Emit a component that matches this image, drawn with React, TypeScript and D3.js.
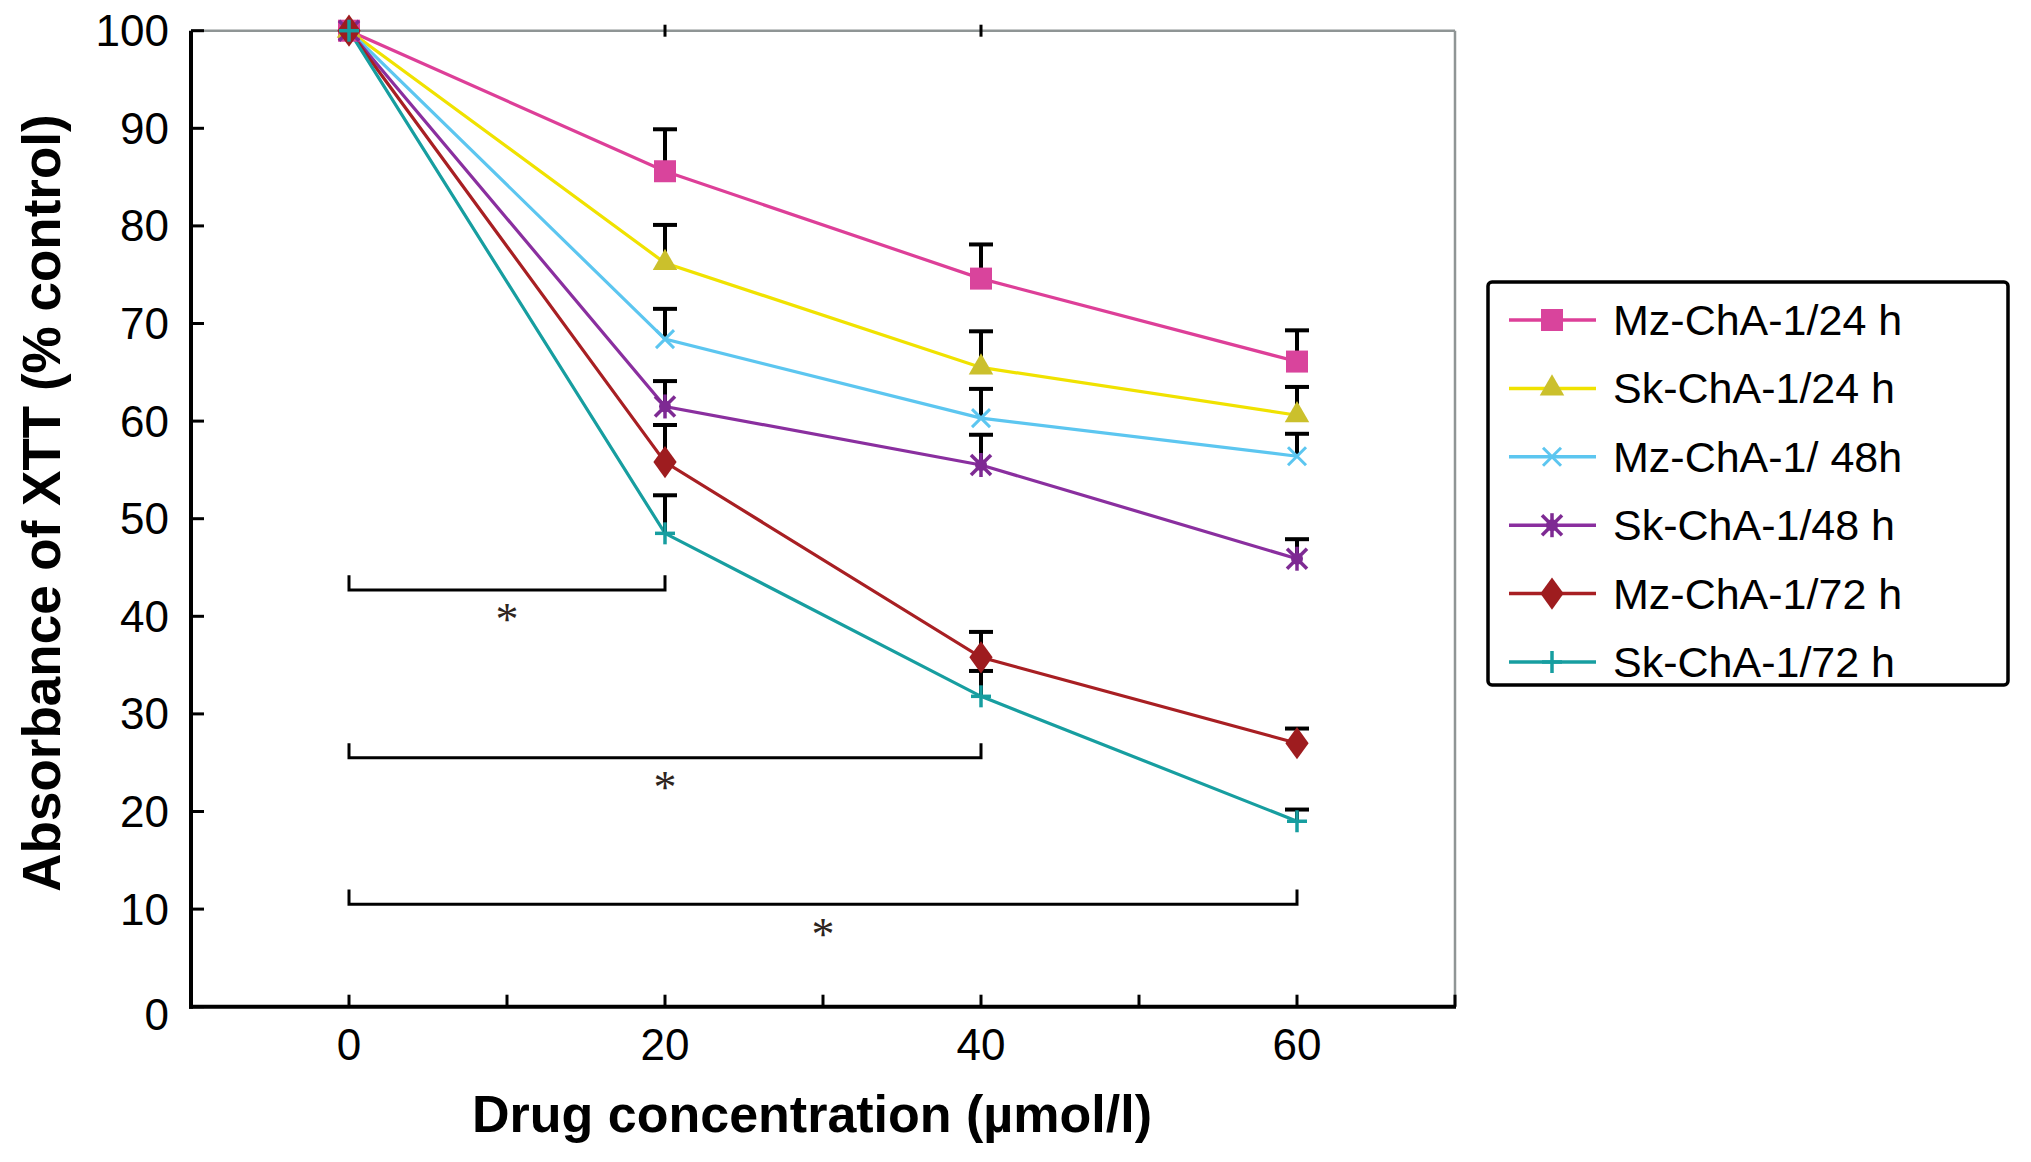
import React from 'react';
import * as d3 from 'd3';

// drug concentrations (µmol/l)
const concentrations = [0, 20, 40, 60];

const seriesNames = ['Mz-ChA-1/24 h', 'Sk-ChA-1/24 h', 'Mz-ChA-1/ 48h', 'Sk-ChA-1/48 h', 'Mz-ChA-1/72 h', 'Sk-ChA-1/72 h'];

// absorbance of XTT (% control)
const mz24 = [100, 85.6, 74.6, 66.1];
const sk24 = [100, 76.2, 65.5, 60.6];
const mz48 = [100, 68.4, 60.3, 56.4];
const sk48 = [100, 61.5, 55.5, 45.9];
const mz72 = [100, 55.8, 35.8, 27.0];
const sk72 = [100, 48.5, 31.8, 19.0];

// upper error bars (SD)
const mz24Err = [0, 4.3, 3.5, 3.2];
const sk24Err = [0, 3.9, 3.7, 2.9];
const mz48Err = [0, 3.1, 3.0, 2.3];
const sk48Err = [0, 2.6, 3.1, 2.0];
const mz72Err = [0, 3.8, 2.6, 1.5];
const sk72Err = [0, 3.9, 2.6, 1.2];

const yTicks = [0, 10, 20, 30, 40, 50, 60, 70, 80, 90, 100];
const xTicks = [0, 10, 20, 30, 40, 50, 60, 70];
const xTickLabels = [0, 20, 40, 60];

// significance brackets
const bracketFrom = [0, 0, 0];
const bracketTo = [20, 40, 60];
const bracketLevel = [42.7, 25.5, 10.5];

const W = 2031;
const H = 1162;

const x = d3.scaleLinear().domain([-10, 70]).range([191, 1455]);
const y = d3.scaleLinear().domain([0, 100]).range([1006.7, 30.7]);

type MarkerKind = 'square' | 'triangle' | 'x' | 'star' | 'diamond' | 'plus';

const series = [
  { name: seriesNames[0], values: mz24, err: mz24Err, line: '#dd3f98', fill: '#d9449c', marker: 'square' as MarkerKind },
  { name: seriesNames[1], values: sk24, err: sk24Err, line: '#f0e200', fill: '#cbc02c', marker: 'triangle' as MarkerKind },
  { name: seriesNames[2], values: mz48, err: mz48Err, line: '#5cc6f0', fill: '#5cc6f0', marker: 'x' as MarkerKind },
  { name: seriesNames[3], values: sk48, err: sk48Err, line: '#8a2f9f', fill: '#7e2a93', marker: 'star' as MarkerKind },
  { name: seriesNames[4], values: mz72, err: mz72Err, line: '#a81f23', fill: '#9e1c1f', marker: 'diamond' as MarkerKind },
  { name: seriesNames[5], values: sk72, err: sk72Err, line: '#179ea0', fill: '#179ea0', marker: 'plus' as MarkerKind },
];

const tickFont = "'Liberation Sans', Arial, sans-serif";

function Marker({ kind, cx, cy, color }: { kind: MarkerKind; cx: number; cy: number; color: string }) {
  const t = `translate(${cx},${cy})`;
  if (kind === 'square') return <rect x={cx - 11} y={cy - 11} width={22} height={22} fill={color} />;
  if (kind === 'triangle')
    return <path transform={t} d={d3.symbol(d3.symbolTriangle, 260)() || ''} fill={color} />;
  if (kind === 'diamond')
    return <path transform={`${t} scale(1.25,1)`} d={d3.symbol(d3.symbolDiamond, 300)() || ''} fill={color} />;
  if (kind === 'x')
    return (
      <g transform={t} stroke={color} strokeWidth={3}>
        <line x1={-9} y1={-9} x2={9} y2={9} />
        <line x1={-9} y1={9} x2={9} y2={-9} />
      </g>
    );
  if (kind === 'star')
    return (
      <g transform={t} stroke={color} strokeWidth={3.5}>
        <line x1={-10} y1={-10} x2={10} y2={10} />
        <line x1={-10} y1={10} x2={10} y2={-10} />
        <line x1={0} y1={-12} x2={0} y2={12} />
        <circle r={6} fill={color} stroke="none" />
      </g>
    );
  return (
    <g transform={t} stroke={color} strokeWidth={3.5}>
      <line x1={0} y1={-11} x2={0} y2={11} />
      <line x1={-10} y1={0} x2={10} y2={0} />
    </g>
  );
}

export default function App() {
  const line = d3
    .line<number>()
    .x((_, i) => x(concentrations[i]))
    .y((d) => y(d));

  const legendRow = d3.scaleLinear().domain([0, 5]).range([320, 662]);

  return (
    <svg width={W} height={H} style={{ position: 'absolute', left: 0, top: 0, background: '#fff' }}>
      <rect width={W} height={H} fill="#fff" />

      {/* frame: grey top/right borders */}
      <line x1={x(-10)} x2={x(70)} y1={y(100)} y2={y(100)} stroke="#8f9595" strokeWidth={2.5} />
      <line x1={x(70)} x2={x(70)} y1={y(100)} y2={y(0)} stroke="#8f9595" strokeWidth={2.5} />
      {[20, 40].map((v) => (
        <line key={v} x1={x(v)} x2={x(v)} y1={y(100) - 6} y2={y(100) + 6} stroke="#000" strokeWidth={3} />
      ))}

      {/* y axis */}
      <line x1={x(-10)} x2={x(-10)} y1={y(100)} y2={y(0) + 2} stroke="#000" strokeWidth={4} />
      {yTicks.map((v) => (
        <g key={v}>
          <line x1={x(-10)} x2={x(-10) + 13} y1={y(v)} y2={y(v)} stroke="#000" strokeWidth={3} />
          <text
            x={169}
            y={y(v) + (v === 0 ? 8 : 0)}
            textAnchor="end"
            dominantBaseline="central"
            fontFamily={tickFont}
            fontSize={44}
            fill="#000"
          >
            {v}
          </text>
        </g>
      ))}

      {/* x axis */}
      <line x1={x(-10) - 2} x2={x(70) + 1} y1={y(0)} y2={y(0)} stroke="#000" strokeWidth={4} />
      {xTicks.map((v) => (
        <line key={v} x1={x(v)} x2={x(v)} y1={y(0)} y2={y(0) - 12} stroke="#000" strokeWidth={3} />
      ))}
      {xTickLabels.map((v) => (
        <text key={v} x={x(v)} y={1060} textAnchor="middle" fontFamily={tickFont} fontSize={44} fill="#000">
          {v}
        </text>
      ))}

      {/* axis titles */}
      <text
        x={812}
        y={1132}
        textAnchor="middle"
        fontFamily={tickFont}
        fontWeight="bold"
        fontSize={52}
        fill="#000"
      >
        Drug concentration (µmol/l)
      </text>
      <text
        transform="translate(60,503) rotate(-90)"
        textAnchor="middle"
        fontFamily={tickFont}
        fontWeight="bold"
        fontSize={53}
        fill="#000"
      >
        Absorbance of XTT (% control)
      </text>

      {/* significance brackets */}
      {bracketLevel.map((lv, i) => {
        const x0 = x(bracketFrom[i]);
        const x1 = x(bracketTo[i]);
        const yl = y(lv);
        const yt = y(lv + 1.5);
        const mid = x((bracketFrom[i] + bracketTo[i]) / 2);
        return (
          <g key={i}>
            <path d={`M${x0},${yt}V${yl}H${x1}V${yt}`} fill="none" stroke="#000" strokeWidth={3} />
            <text
              x={mid}
              y={y(lv - 2.2) + 24}
              textAnchor="middle"
              fontFamily="'Liberation Serif', 'DejaVu Serif', serif"
              fontSize={46}
              fill="#2e2520"
            >
              *
            </text>
          </g>
        );
      })}

      {/* series lines */}
      {series.map((s) => (
        <path key={s.name} d={line(s.values) || ''} fill="none" stroke={s.line} strokeWidth={3.2} />
      ))}

      {/* error bars */}
      {series.map((s) =>
        s.values.map((v, i) =>
          s.err[i] > 0 ? (
            <g key={`${s.name}-${i}`} stroke="#000" strokeWidth={4}>
              <line x1={x(concentrations[i])} x2={x(concentrations[i])} y1={y(v)} y2={y(v + s.err[i])} />
              <line
                x1={x(concentrations[i]) - 12}
                x2={x(concentrations[i]) + 12}
                y1={y(v + s.err[i])}
                y2={y(v + s.err[i])}
              />
            </g>
          ) : null
        )
      )}

      {/* markers */}
      {series.map((s) =>
        s.values.map((v, i) => (
          <Marker key={`${s.name}-m${i}`} kind={s.marker} cx={x(concentrations[i])} cy={y(v)} color={s.fill} />
        ))
      )}

      {/* legend */}
      <rect x={1488} y={282} width={520} height={403} rx={4} fill="#fff" stroke="#000" strokeWidth={3.5} />
      {series.map((s, i) => (
        <g key={`leg-${s.name}`}>
          <line x1={1509} x2={1596} y1={legendRow(i)} y2={legendRow(i)} stroke={s.line} strokeWidth={3.5} />
          <Marker kind={s.marker} cx={1552} cy={legendRow(i)} color={s.fill} />
          <text
            x={1613}
            y={legendRow(i)}
            dominantBaseline="central"
            fontFamily={tickFont}
            fontSize={43}
            fill="#000"
          >
            {s.name}
          </text>
        </g>
      ))}
    </svg>
  );
}
